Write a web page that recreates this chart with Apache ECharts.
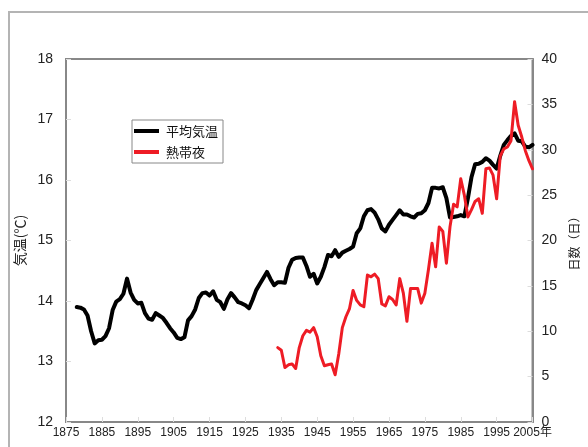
<!DOCTYPE html>
<html>
<head>
<meta charset="utf-8">
<script src="https://cdn.jsdelivr.net/npm/echarts@6/dist/echarts.min.js"></script>
<style>
  html, body { margin: 0; padding: 0; background: #fff; }
  #chart { width: 588px; height: 447px; }
</style>
</head>
<body>
<div id="chart"></div>
<script>
// Annual mean temperature (5-year running mean), °C, 1878–2005
const tempStartYear = 1878;
const meanTemp = [
  13.90, 13.89, 13.86, 13.76, 13.50, 13.30, 13.35, 13.36, 13.42, 13.55,
  13.85, 13.99, 14.03, 14.12, 14.37, 14.14, 14.02, 13.96, 13.97, 13.80,
  13.71, 13.69, 13.80, 13.76, 13.72, 13.64, 13.55, 13.48, 13.39, 13.37,
  13.40, 13.68, 13.75, 13.86, 14.05, 14.13, 14.14, 14.09, 14.16, 14.02,
  13.98, 13.87, 14.03, 14.13, 14.06, 13.98, 13.96, 13.93, 13.88, 14.02,
  14.18, 14.28, 14.38, 14.48, 14.36, 14.26, 14.31, 14.31, 14.30, 14.55,
  14.68, 14.71, 14.72, 14.72, 14.58, 14.40, 14.45, 14.29, 14.40, 14.56,
  14.76, 14.74, 14.84, 14.73, 14.80, 14.83, 14.86, 14.90, 15.12, 15.20,
  15.40, 15.50, 15.52, 15.46, 15.35, 15.20, 15.15, 15.26, 15.34, 15.42,
  15.50, 15.43, 15.43, 15.40, 15.38, 15.44, 15.45, 15.50, 15.62, 15.87,
  15.87, 15.86, 15.88, 15.70, 15.38, 15.39, 15.40, 15.42, 15.40, 15.70,
  16.05, 16.26, 16.27, 16.30, 16.36, 16.32, 16.25, 16.19, 16.40, 16.58,
  16.66, 16.73, 16.77, 16.65, 16.64, 16.55, 16.54, 16.58
];

// Number of tropical nights per year (running mean), days, 1934–2005
const nightsStartYear = 1934;
const tropicalNights = [
  8.2, 7.9, 6.0, 6.3, 6.4, 5.9, 8.2, 9.5, 10.1, 9.9,
  10.4, 9.4, 7.3, 6.2, 6.3, 6.4, 5.2, 7.5, 10.4, 11.6,
  12.5, 14.5, 13.4, 12.9, 12.7, 16.2, 16.0, 16.3, 15.8, 13.0,
  12.8, 13.8, 13.5, 12.9, 15.8, 14.2, 11.1, 14.7, 14.7, 14.7,
  13.1, 14.2, 16.8, 19.7, 17.1, 21.5, 21.0, 17.5, 21.5, 24.0,
  23.7, 26.8, 25.0, 22.6, 23.4, 24.3, 24.6, 23.0, 27.9, 28.0,
  27.2, 24.6, 29.3, 30.1, 30.3, 31.0, 35.3, 32.7, 31.4, 29.9,
  28.8, 27.9
];

// Axis scales and tick labels
const yearMin = 1875, yearMax = 2005, yearStep = 10;
const tempMin = 12, tempMax = 18, tempStep = 1;
const daysMin = 0, daysMax = 40, daysStep = 5;
const seriesNames = ['平均気温', '熱帯夜'];
const tempAxisName = '気温(℃)';
const daysAxisName = '日数（日）';
const yearSuffix = '年';

const toPairs = (start, arr) => arr.map((v, i) => [start + i, v]);

const chart = echarts.init(document.getElementById('chart'), null, { renderer: 'canvas' });

const numFont = 'Liberation Sans, Arial, "Noto Sans CJK JP", sans-serif';
const cjkFont = '"Noto Sans CJK JP", sans-serif';

chart.setOption({
  animation: false,
  backgroundColor: '#fff',
  graphic: [{
    type: 'rect',
    shape: { x: 9, y: 12, width: 620, height: 450 },
    style: { fill: 'none', stroke: '#b4b4b4', lineWidth: 2 },
    silent: true,
    z: -1
  }],
  grid: {
    left: 66, right: 45, top: 59, bottom: 25,
    show: true, borderColor: '#888', borderWidth: 2, backgroundColor: 'transparent'
  },
  legend: {
    orient: 'vertical',
    left: 132, top: 120,
    data: seriesNames,
    icon: 'rect',
    itemWidth: 25, itemHeight: 4,
    itemGap: 7,
    padding: [4, 5, 4, 2],
    borderColor: '#888', borderWidth: 1,
    textStyle: { fontFamily: cjkFont, fontSize: 13, color: '#111', lineHeight: 14, padding: [0, 0, 0, 2] }
  },
  xAxis: {
    type: 'value',
    min: yearMin, max: yearMax, interval: yearStep,
    axisLine: { show: true, lineStyle: { color: '#888', width: 2 } },
    axisTick: { show: true, inside: true, length: 5, lineStyle: { color: '#ddd' } },
    splitLine: { show: false },
    axisLabel: {
      margin: 5,
      color: '#222', fontSize: 12, fontFamily: numFont,
      formatter: v => v === yearMax ? v + yearSuffix : String(v)
    }
  },
  yAxis: [{
    type: 'value',
    min: tempMin, max: tempMax, interval: tempStep,
    position: 'left',
    name: tempAxisName, nameLocation: 'middle', nameGap: 37, nameRotate: 90,
    nameTextStyle: { fontFamily: cjkFont, fontSize: 14, color: '#222' },
    axisLine: { show: true, lineStyle: { color: '#888', width: 2 } },
    axisTick: { show: true, inside: true, length: 5, lineStyle: { color: '#ddd' } },
    splitLine: { show: false },
    axisLabel: { margin: 13, color: '#222', fontSize: 14, fontFamily: numFont }
  }, {
    type: 'value',
    min: daysMin, max: daysMax, interval: daysStep,
    position: 'right',
    name: daysAxisName, nameLocation: 'middle', nameGap: 34, nameRotate: 90,
    nameTextStyle: { fontFamily: cjkFont, fontSize: 12, color: '#222' },
    axisLine: { show: true, lineStyle: { color: '#888', width: 2 } },
    axisTick: { show: true, inside: true, length: 5, lineStyle: { color: '#ddd' } },
    splitLine: { show: false },
    axisLabel: { margin: 9, color: '#222', fontSize: 14, fontFamily: numFont }
  }],
  series: [{
    name: seriesNames[0],
    type: 'line',
    yAxisIndex: 0,
    data: toPairs(tempStartYear, meanTemp),
    showSymbol: false,
    color: '#000',
    lineStyle: { color: '#000', width: 4, join: 'round', cap: 'round' },
    z: 2
  }, {
    name: seriesNames[1],
    type: 'line',
    yAxisIndex: 1,
    data: toPairs(nightsStartYear, tropicalNights),
    showSymbol: false,
    color: '#ee1c25',
    lineStyle: { color: '#ee1c25', width: 3, join: 'round', cap: 'round' },
    z: 3
  }]
});
</script>
</body>
</html>
